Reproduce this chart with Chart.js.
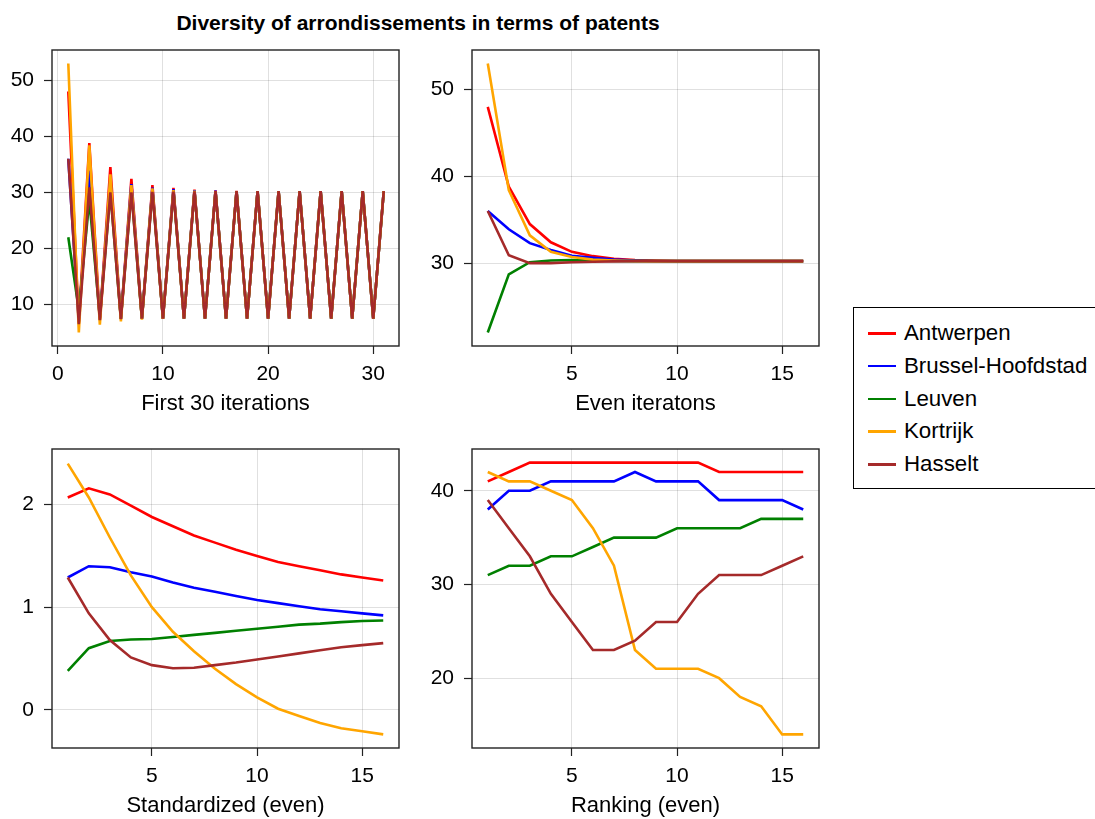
<!DOCTYPE html>
<html>
<head>
<meta charset="utf-8">
<title>Diversity of arrondissements in terms of patents</title>
<script src="https://cdn.jsdelivr.net/npm/chart.js@4.4.1/dist/chart.umd.min.js"></script>
<style>
    html, body {
        margin: 0;
        padding: 0;
        background: #fff;
        width: 1095px;
        height: 819px;
        overflow: hidden;
        position: relative;
        font-family: "Liberation Sans", Arial, sans-serif;
    }
    canvas { position: absolute; }
    #title {
        position: absolute;
        left: 0;
        top: 11px;
        width: 836px;
        text-align: center;
        font-weight: bold;
        font-size: 21px;
        line-height: 24px;
        color: #000;
        white-space: nowrap;
    }
    #legend {
        position: absolute;
        left: 853px;
        top: 307px;
        width: 260px;
        height: 180px;
        border: 1px solid #000;
        box-sizing: content-box;
    }
    .legend-row {
        position: absolute;
        left: 0;
        height: 32.7px;
        line-height: 32.7px;
        font-size: 22.3px;
        color: #000;
        white-space: nowrap;
    }
    .legend-swatch {
        position: absolute;
        left: 14px;
        top: 15px;
        width: 28px;
        height: 2.6px;
    }
    .legend-text {
        position: absolute;
        left: 50px;
        top: 0;
    }
</style>
</head>
<body>
<div id="title">Diversity of arrondissements in terms of patents</div>
<canvas id="first-chart" width="410" height="380" style="left:0;top:40px"></canvas>
<canvas id="even-chart" width="420" height="380" style="left:410px;top:40px"></canvas>
<canvas id="std-chart" width="410" height="392" style="left:0;top:430px"></canvas>
<canvas id="rank-chart" width="420" height="392" style="left:410px;top:430px"></canvas>
<div id="legend"></div>

<script>
// Series
const seriesNames = ['Antwerpen', 'Brussel-Hoofdstad', 'Leuven', 'Kortrijk', 'Hasselt'];
const seriesColors = ['#ff0000', '#0000ff', '#008000', '#ffa500', '#a52a2a'];

// x values
const iterations31 = [1, 2, 3, 4, 5, 6, 7, 8, 9, 10, 11, 12, 13, 14, 15, 16, 17, 18, 19, 20,
    21, 22, 23, 24, 25, 26, 27, 28, 29, 30, 31];
const iterations16 = [1, 2, 3, 4, 5, 6, 7, 8, 9, 10, 11, 12, 13, 14, 15, 16];

// First 30 iterations
const firstAntwerpen = [48, 6.7, 38.8, 7.3, 34.5, 7.45, 32.4, 7.5, 31.3, 7.5, 30.8, 7.5, 30.5, 7.5,
    30.35, 7.5, 30.28, 7.5, 30.25, 7.5, 30.23, 7.5, 30.23, 7.5, 30.23, 7.5, 30.23, 7.5, 30.23, 7.5, 30.23];
const firstBrussel = [36, 7.0, 33.9, 7.3, 32.3, 7.45, 31.5, 7.5, 30.85, 7.5, 30.6, 7.5, 30.4, 7.5,
    30.3, 7.5, 30.25, 7.5, 30.23, 7.5, 30.23, 7.5, 30.23, 7.5, 30.23, 7.5, 30.23, 7.5, 30.23, 7.5, 30.23];
const firstLeuven = [22, 9.0, 28.7, 7.7, 30.1, 7.5, 30.3, 7.5, 30.35, 7.5, 30.3, 7.5, 30.25, 7.5,
    30.23, 7.5, 30.23, 7.5, 30.23, 7.5, 30.23, 7.5, 30.23, 7.5, 30.23, 7.5, 30.23, 7.5, 30.23, 7.5, 30.23];
const firstKortrijk = [53, 5.0, 38.4, 6.4, 33.2, 7.0, 31.3, 7.3, 30.7, 7.45, 30.4, 7.5, 30.3, 7.5,
    30.25, 7.5, 30.23, 7.5, 30.23, 7.5, 30.23, 7.5, 30.23, 7.5, 30.23, 7.5, 30.23, 7.5, 30.23, 7.5, 30.23];
const firstHasselt = [36, 6.5, 30.9, 7.2, 30.0, 7.4, 30.0, 7.5, 30.1, 7.5, 30.15, 7.5, 30.2, 7.5,
    30.23, 7.5, 30.23, 7.5, 30.23, 7.5, 30.23, 7.5, 30.23, 7.5, 30.23, 7.5, 30.23, 7.5, 30.23, 7.5, 30.23];

// Even iterations
const evenAntwerpen = [48, 38.8, 34.5, 32.4, 31.3, 30.8, 30.5, 30.35, 30.28, 30.25, 30.23, 30.23, 30.23, 30.23, 30.23, 30.23];
const evenBrussel = [36, 33.9, 32.3, 31.5, 30.85, 30.6, 30.4, 30.3, 30.25, 30.23, 30.23, 30.23, 30.23, 30.23, 30.23, 30.23];
const evenLeuven = [22, 28.7, 30.1, 30.3, 30.35, 30.3, 30.25, 30.23, 30.23, 30.23, 30.23, 30.23, 30.23, 30.23, 30.23, 30.23];
const evenKortrijk = [53, 38.4, 33.2, 31.3, 30.7, 30.4, 30.3, 30.25, 30.23, 30.23, 30.23, 30.23, 30.23, 30.23, 30.23, 30.23];
const evenHasselt = [36, 30.9, 30.0, 30.0, 30.1, 30.15, 30.2, 30.23, 30.23, 30.23, 30.23, 30.23, 30.23, 30.23, 30.23, 30.23];

// Standardized (even)
const stdAntwerpen = [2.07, 2.16, 2.10, 1.99, 1.88, 1.79, 1.70, 1.63, 1.56, 1.50, 1.44, 1.40, 1.36, 1.32, 1.29, 1.26];
const stdBrussel = [1.29, 1.40, 1.39, 1.34, 1.30, 1.24, 1.19, 1.15, 1.11, 1.07, 1.04, 1.01, 0.98, 0.96, 0.94, 0.92];
const stdLeuven = [0.38, 0.60, 0.67, 0.685, 0.69, 0.71, 0.73, 0.75, 0.77, 0.79, 0.81, 0.83, 0.84, 0.855, 0.865, 0.87];
const stdKortrijk = [2.40, 2.07, 1.68, 1.31, 1.00, 0.76, 0.57, 0.40, 0.25, 0.12, 0.01, -0.06, -0.13, -0.18, -0.21, -0.24];
const stdHasselt = [1.29, 0.94, 0.68, 0.51, 0.435, 0.405, 0.41, 0.435, 0.46, 0.49, 0.52, 0.55, 0.58, 0.61, 0.63, 0.65];

// Ranking (even)
const rankAntwerpen = [41, 42, 43, 43, 43, 43, 43, 43, 43, 43, 43, 42, 42, 42, 42, 42];
const rankBrussel = [38, 40, 40, 41, 41, 41, 41, 42, 41, 41, 41, 39, 39, 39, 39, 38];
const rankLeuven = [31, 32, 32, 33, 33, 34, 35, 35, 35, 36, 36, 36, 36, 37, 37, 37];
const rankKortrijk = [42, 41, 41, 40, 39, 36, 32, 23, 21, 21, 21, 20, 18, 17, 14, 14];
const rankHasselt = [39, 36, 33, 29, 26, 23, 23, 24, 26, 26, 29, 31, 31, 31, 32, 33];

// Tick labels
const firstXTicks = [0, 10, 20, 30];
const firstYTicks = [10, 20, 30, 40, 50];
const evenXTicks = [5, 10, 15];
const evenYTicks = [30, 40, 50];
const stdYTicks = [0, 1, 2];
const rankYTicks = [20, 30, 40];

const FONT = '"Liberation Sans", Arial, sans-serif';

// black box round the plot area, drawn over the lines
const framePlugin = {
    id: 'frame',
    afterDatasetsDraw(chart) {
        const { ctx, chartArea: a } = chart;
        ctx.save();
        ctx.strokeStyle = '#222';
        ctx.lineWidth = 1.4;
        ctx.strokeRect(a.left, a.top, a.right - a.left, a.bottom - a.top);
        ctx.restore();
    }
};

function axis(min, max, ticks, size, title) {
    const isX = title !== null;
    const cfg = {
        type: 'linear',
        min: min,
        max: max,
        afterBuildTicks: (scale) => { scale.ticks = ticks.map(v => ({ value: v })); },
        afterFit: (scale) => {
            // fixed axis box, no extra room for overhanging labels
            if (isX) {
                scale.height = size;
                scale.paddingLeft = 0;
                scale.paddingRight = 0;
            } else {
                scale.width = size;
                scale.paddingTop = 0;
                scale.paddingBottom = 0;
            }
        },
        grid: {
            color: 'rgba(0,0,0,0.12)',
            lineWidth: 1,
            drawTicks: true,
            tickLength: 8,
            tickColor: '#222',
            tickWidth: 1.2
        },
        border: { display: false },
        ticks: {
            autoSkip: false,
            maxRotation: 0,
            padding: isX ? 8 : 10,
            color: '#000',
            font: { family: FONT, size: 21 }
        }
    };
    if (isX) {
        cfg.title = {
            display: true,
            text: title,
            color: '#000',
            font: { family: FONT, size: 22, lineHeight: 1.2 },
            padding: { top: 0, bottom: 3 }
        };
    }
    return cfg;
}

function makePanel(canvasId, xs, series, xAxis, yAxis, pad) {
    new Chart(document.getElementById(canvasId), {
        type: 'line',
        data: {
            datasets: series.map((ys, i) => ({
                label: seriesNames[i],
                data: ys.map((y, j) => ({ x: xs[j], y: y })),
                borderColor: seriesColors[i],
                backgroundColor: seriesColors[i],
                borderWidth: 2.6,
                pointRadius: 0,
                tension: 0,
                fill: false,
                order: seriesNames.length - 1 - i
            }))
        },
        options: {
            responsive: false,
            animation: false,
            events: [],
            layout: { padding: { top: pad.top, right: pad.right, left: 0, bottom: 0 } },
            plugins: {
                legend: { display: false },
                tooltip: { enabled: false }
            },
            scales: { x: xAxis, y: yAxis }
        },
        plugins: [framePlugin]
    });
}

makePanel('first-chart', iterations31,
    [firstAntwerpen, firstBrussel, firstLeuven, firstKortrijk, firstHasselt],
    axis(-0.55, 32.45, firstXTicks, 74, 'First 30 iterations'),
    axis(2.6, 55.4, firstYTicks, 52, null),
    { top: 10, right: 11 });

makePanel('even-chart', iterations16,
    [evenAntwerpen, evenBrussel, evenLeuven, evenKortrijk, evenHasselt],
    axis(0.25, 16.75, evenXTicks, 74, 'Even iteratons'),
    axis(20.45, 54.55, evenYTicks, 62, null),
    { top: 10, right: 11 });

makePanel('std-chart', iterations16,
    [stdAntwerpen, stdBrussel, stdLeuven, stdKortrijk, stdHasselt],
    axis(0.25, 16.75, evenXTicks, 74, 'Standardized (even)'),
    axis(-0.373, 2.543, stdYTicks, 52, null),
    { top: 19, right: 11 });

makePanel('rank-chart', iterations16,
    [rankAntwerpen, rankBrussel, rankLeuven, rankKortrijk, rankHasselt],
    axis(0.25, 16.75, evenXTicks, 74, 'Ranking (even)'),
    axis(12.55, 44.45, rankYTicks, 62, null),
    { top: 19, right: 11 });

// Legend
const legend = document.getElementById('legend');
seriesNames.forEach((name, i) => {
    const row = document.createElement('div');
    row.className = 'legend-row';
    row.style.top = (9.2 + i * 32.7) + 'px';
    const sw = document.createElement('div');
    sw.className = 'legend-swatch';
    sw.style.background = seriesColors[i];
    const txt = document.createElement('span');
    txt.className = 'legend-text';
    txt.textContent = name;
    row.appendChild(sw);
    row.appendChild(txt);
    legend.appendChild(row);
});
</script>
</body>
</html>
